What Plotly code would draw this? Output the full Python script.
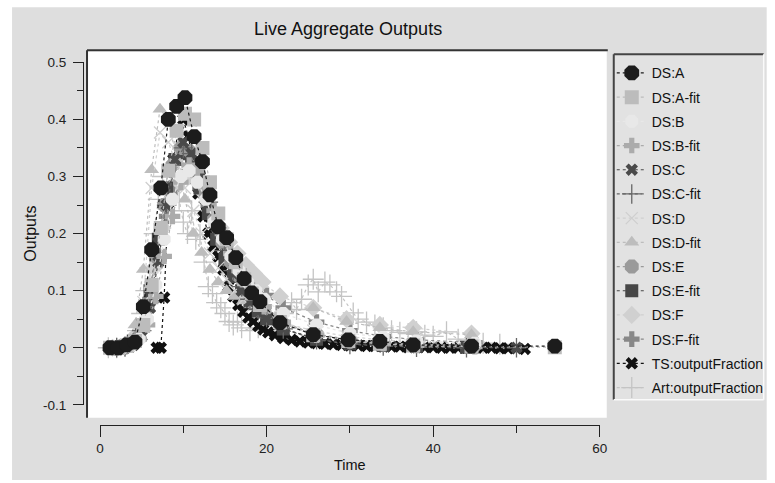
import plotly.graph_objects as go

# figure size and the placement of the page on screen (scale and offset of the view)
W, H = 775, 491
SX, SY, OX, OY = 0.985, 0.968, 4.0, 8.0


def fx(p):
    """screen x pixel -> paper fraction"""
    return (p / SX - OX) / W


def fy(p):
    """screen y pixel -> paper fraction"""
    return 1 - (p / SY - OY) / H


# ---------------- data ----------------
a_x = [1.2, 2.2, 3.2, 4.2, 5.2, 6.2, 7.3, 8.2, 9.2, 10.2, 11.3, 12.3, 13.2, 14.2, 15.2, 16.3, 17.3,
       18.2, 19.2, 21.6, 25.6, 29.8, 33.6, 37.6, 44.6, 54.6]
a_y = [0.0, 0.0, 0.005, 0.01, 0.072, 0.172, 0.28, 0.40, 0.423, 0.438, 0.37, 0.326, 0.268, 0.212,
       0.193, 0.158, 0.121, 0.096, 0.081, 0.044, 0.023, 0.014, 0.011, 0.005, 0.003, 0.003]
afit_y = [0.0, 0.001, 0.004, 0.012, 0.04, 0.11, 0.21, 0.31, 0.38, 0.41, 0.40, 0.35, 0.29, 0.235,
          0.19, 0.15, 0.12, 0.095, 0.075, 0.045, 0.022, 0.012, 0.007, 0.004, 0.002, 0.001]

b_x = [1.7, 2.7, 3.7, 4.7, 5.7, 6.7, 7.7, 8.7, 9.7, 10.7, 11.7, 12.7, 13.7, 14.7, 15.7, 16.7, 17.7,
       18.7, 19.7, 22.0, 26.0, 30.0, 34.0, 38.0, 45.0]
b_y = [0.0, 0.0, 0.003, 0.015, 0.05, 0.11, 0.19, 0.26, 0.30, 0.31, 0.29, 0.26, 0.22, 0.19, 0.16,
       0.135, 0.115, 0.10, 0.085, 0.06, 0.04, 0.025, 0.018, 0.012, 0.008]
bfit_y = [0.0, 0.001, 0.005, 0.015, 0.04, 0.09, 0.16, 0.23, 0.29, 0.32, 0.31, 0.28, 0.24, 0.20,
          0.165, 0.135, 0.11, 0.09, 0.072, 0.045, 0.022, 0.012, 0.007, 0.004, 0.002]

c_x = [2.0, 3.0, 4.0, 5.0, 6.0, 7.0, 8.0, 9.0, 10.0, 11.0, 12.0, 13.0, 14.0, 15.0, 16.0, 17.0, 18.0,
       19.0, 20.0, 22.0, 26.0, 30.0, 34.0, 38.0, 44.0, 50.0]
c_y = [0.0, 0.0, 0.005, 0.02, 0.07, 0.15, 0.25, 0.33, 0.36, 0.34, 0.30, 0.25, 0.20, 0.16, 0.13,
       0.10, 0.08, 0.063, 0.05, 0.033, 0.016, 0.008, 0.005, 0.003, 0.001, 0.0]
cfit_y = [0.0, 0.002, 0.008, 0.03, 0.08, 0.16, 0.25, 0.32, 0.35, 0.34, 0.30, 0.255, 0.21, 0.17,
          0.135, 0.107, 0.085, 0.067, 0.053, 0.033, 0.014, 0.006, 0.003, 0.001, 0.0, 0.0]

d_x = [1.2, 2.2, 3.2, 4.2, 5.2, 6.2, 7.2, 8.2, 9.2, 10.2, 11.2, 12.2, 13.2, 14.2, 15.2, 16.2, 17.2,
       18.2, 19.2, 21.6, 25.6, 29.6, 33.6, 37.6, 44.6]
d_y = [0.0, 0.0, 0.003, 0.015, 0.08, 0.28, 0.377, 0.36, 0.32, 0.28, 0.24, 0.20, 0.165, 0.14,
       0.12, 0.10, 0.085, 0.072, 0.062, 0.045, 0.03, 0.02, 0.014, 0.01, 0.006]
dfit_y = [0.0, 0.002, 0.01, 0.04, 0.137, 0.312, 0.418, 0.40, 0.33, 0.26, 0.20, 0.167, 0.137, 0.115,
          0.10, 0.09, 0.082, 0.076, 0.07, 0.06, 0.07, 0.046, 0.035, 0.028, 0.023]

e_x = [1.7, 2.7, 3.7, 4.7, 5.7, 6.7, 7.7, 8.7, 9.7, 10.7, 11.7, 12.7, 13.7, 14.7, 15.7, 16.7, 17.7,
       18.7, 19.7, 22.0, 26.0, 30.0, 34.0, 38.0, 45.0]
e_y = [0.0, 0.0, 0.004, 0.02, 0.07, 0.16, 0.25, 0.32, 0.35, 0.345, 0.31, 0.27, 0.225, 0.185, 0.15,
       0.125, 0.10, 0.082, 0.068, 0.042, 0.024, 0.014, 0.009, 0.006, 0.004]

efit_x = [2.0, 3.0, 4.0, 5.0, 6.0, 7.0, 8.0, 9.0, 10.0, 11.0, 12.0, 13.0, 14.0, 15.0, 16.0, 17.0,
          18.0, 19.0, 20.0, 22.0, 26.0, 30.0, 34.0, 38.0, 44.0]
efit_y = [0.0, 0.003, 0.012, 0.04, 0.10, 0.19, 0.28, 0.33, 0.34, 0.32, 0.28, 0.235, 0.19, 0.155,
          0.125, 0.10, 0.08, 0.064, 0.051, 0.033, 0.015, 0.007, 0.004, 0.002, 0.001]

f_x = [1.5, 2.5, 3.5, 4.5, 5.5, 6.5, 7.5, 8.5, 9.5, 10.5, 11.5, 12.5, 13.5, 14.5, 15.5, 16.5, 17.5,
       18.5, 19.5, 21.6, 25.6, 29.6, 33.6, 37.6, 44.6]
f_y = [0.0, 0.001, 0.006, 0.025, 0.07, 0.14, 0.21, 0.26, 0.29, 0.30, 0.295, 0.27, 0.24, 0.21,
       0.185, 0.165, 0.145, 0.13, 0.115, 0.09, 0.07, 0.05, 0.04, 0.035, 0.025]

ffit_x = [2.0, 3.0, 4.0, 5.0, 6.0, 7.0, 8.0, 9.0, 10.0, 11.0, 12.0, 13.0, 14.0, 15.0, 16.0, 17.0,
          18.0, 19.0, 20.0, 22.0, 26.0, 30.0, 34.0, 38.0, 45.0]
ffit_y = [0.0, 0.002, 0.01, 0.035, 0.085, 0.16, 0.23, 0.28, 0.30, 0.30, 0.28, 0.25, 0.215, 0.185,
          0.16, 0.14, 0.12, 0.105, 0.092, 0.07, 0.045, 0.03, 0.02, 0.014, 0.009]

ts_x = [6.8, 7.3, 7.7, 8.2, 8.8, 9.4, 10.0, 10.6, 11.2, 11.8, 12.4, 13.0, 13.6, 14.2, 14.8, 15.4,
        16.0, 16.6, 17.2, 17.8, 18.4, 19.0, 19.6, 20.2, 21.0, 22.0, 23.0, 24.0, 25.0, 26.0, 27.0,
        28.0, 29.0, 30.0, 31.0, 32.0, 33.0, 34.0, 35.0, 36.0, 37.0, 38.0, 39.0, 40.0, 41.0, 42.0,
        43.0, 44.0, 45.0, 46.0, 47.0, 48.0, 49.0, 50.0, 51.0]
ts_y = [0.0, 0.0, 0.088, 0.254, 0.33, 0.38, 0.40, 0.37, 0.32, 0.27, 0.23, 0.20, 0.178, 0.16,
        0.137, 0.107, 0.09, 0.075, 0.063, 0.053, 0.046, 0.038, 0.032, 0.027, 0.022, 0.017, 0.014,
        0.011, 0.009, 0.008, 0.007, 0.006, 0.005, 0.004, 0.004, 0.003, 0.003, 0.002, 0.002,
        0.002, 0.001, 0.001, 0.001, 0.001, 0.0, 0.0, 0.0, 0.0, 0.0, 0.0, 0.0, -0.001, -0.001,
        -0.001, -0.002]

art_x = [1.0, 2.0, 3.0, 4.0, 4.5, 5.0, 5.5, 6.0, 6.5, 7.0, 7.5, 8.0, 8.5, 9.0, 9.5, 10.0, 10.5,
         11.0, 11.5, 12.0, 12.5, 13.0, 13.5, 14.0, 14.5, 15.0, 15.5, 16.0, 16.5, 17.0, 18.0, 19.0,
         20.0, 21.0, 22.0, 23.0, 23.6, 24.2, 25.0, 25.6, 26.2, 27.0, 27.6, 28.4, 29.0, 30.4, 31.0,
         32.0, 33.0, 34.0, 35.0, 36.0, 37.0, 38.0, 39.0, 40.0, 41.6, 43.0, 44.0, 45.0, 46.0, 48.0]
art_y = [0.0, 0.0, 0.002, 0.01, 0.03, 0.06, 0.10, 0.14, 0.20, 0.26, 0.30, 0.28, 0.24, 0.28, 0.26,
         0.22, 0.20, 0.24, 0.19, 0.198, 0.15, 0.107, 0.095, 0.079, 0.07, 0.06, 0.046, 0.04, 0.045,
         0.035, 0.03, 0.035, 0.04, 0.045, 0.06, 0.079, 0.067, 0.085, 0.11, 0.12, 0.098, 0.115,
         0.11, 0.098, 0.09, 0.061, 0.05, 0.045, 0.04, 0.035, 0.03, 0.027, 0.025, 0.028, 0.022,
         0.02, 0.028, 0.015, 0.012, 0.01, 0.008, 0.006]

x_ticks = [0, 20, 40, 60]
y_ticks = [-0.1, 0.0, 0.1, 0.2, 0.3, 0.4, 0.5]

# name, x, y, symbol, size, colour  (legend order; first entry is painted on top)
series = [
    ("DS:A", a_x, a_y, "octagon", 16, "#1c1c1c"),
    ("DS:A-fit", a_x, afit_y, "square", 14, "#bcbcbc"),
    ("DS:B", b_x, b_y, "octagon", 14, "#e8e8e8"),
    ("DS:B-fit", b_x, bfit_y, "cross", 13, "#ababab"),
    ("DS:C", c_x, c_y, "x", 11, "#4a4a4a"),
    ("DS:C-fit", c_x, cfit_y, "cross-thin", 14, "#666666"),
    ("DS:D", d_x, d_y, "x-thin", 12, "#cfcfcf"),
    ("DS:D-fit", d_x, dfit_y, "triangle-up", 13, "#bdbdbd"),
    ("DS:E", e_x, e_y, "octagon", 15, "#9a9a9a"),
    ("DS:E-fit", efit_x, efit_y, "square", 13, "#474747"),
    ("DS:F", f_x, f_y, "diamond", 14, "#d0d0d0"),
    ("DS:F-fit", ffit_x, ffit_y, "cross", 13, "#888888"),
    ("TS:outputFraction", ts_x, ts_y, "x", 11, "#111111"),
    ("Art:outputFraction", art_x, art_y, "cross-thin", 15, "#c4c4c4"),
]

FONT = "Liberation Sans, Arial, sans-serif"

fig = go.Figure()
for rank, (name, xs, ys, sym, size, col) in reversed(list(enumerate(series))):
    marker = dict(symbol=sym, size=size, color=col)
    if sym.endswith("-thin"):
        marker["line"] = dict(color=col, width=1.3)
    else:
        marker["line"] = dict(width=0)
    fig.add_trace(go.Scatter(
        x=xs, y=ys, name=name, mode="lines+markers", legendgroup=name,
        legendrank=rank + 1,
        line=dict(color=col, width=1.2, dash="dot"), marker=marker,
    ))

# helper traces so the detached axes are drawn
fig.add_trace(go.Scatter(x=[], y=[], xaxis="x2", yaxis="y", showlegend=False))
fig.add_trace(go.Scatter(x=[], y=[], xaxis="x", yaxis="y2", showlegend=False))

# plot area, in screen pixels
PL, PR, PT, PB = 88, 607, 52, 418
X0PX, X60PX = 100, 600
Y05PX, YM01PX = 63, 405
xs_per_px = 60 / (X60PX - X0PX)
ys_per_px = 0.6 / (YM01PX - Y05PX)
xr = [(PL - X0PX) * xs_per_px, (PR - X0PX) * xs_per_px]
yr = [-0.1 - (PB - YM01PX) * ys_per_px, 0.5 + (Y05PX - PT) * ys_per_px]

tickfont = dict(family=FONT, size=13.5, color="#222222")


def hline(x0, x1, y, col, w):
    return dict(type="line", xref="paper", yref="paper", x0=fx(x0), x1=fx(x1), y0=fy(y), y1=fy(y),
                line=dict(color=col, width=w), layer="below")


def vline(x, y0, y1, col, w):
    return dict(type="line", xref="paper", yref="paper", x0=fx(x), x1=fx(x), y0=fy(y0), y1=fy(y1),
                line=dict(color=col, width=w), layer="below")


shapes = [
    # grey panel
    dict(type="rect", xref="paper", yref="paper", x0=fx(12), x1=fx(767), y0=fy(480), y1=fy(8),
         fillcolor="#dedede", line=dict(width=0), layer="below"),
    # white plotting area
    dict(type="rect", xref="paper", yref="paper", x0=fx(PL), x1=fx(PR), y0=fy(PB), y1=fy(PT),
         fillcolor="#ffffff", line=dict(width=0), layer="below"),
    # sunken frame: dark top and left edges
    hline(PL - 1, PR + 1, PT - 1, "#333333", 2),
    vline(PL - 1, PB, PT - 1, "#333333", 2),
    # legend box
    dict(type="rect", xref="paper", yref="paper", x0=fx(614), x1=fx(764), y0=fy(400), y1=fy(55),
         fillcolor="#e2e2e2", line=dict(width=0), layer="below"),
    hline(614, 764, 55, "#444444", 2),
    vline(614, 400, 55, "#444444", 2),
    hline(614, 764, 400, "#fafafa", 1.5),
    vline(764, 400, 55, "#fafafa", 1.5),
]

fig.update_layout(
    width=W, height=H,
    margin=dict(l=0, r=0, t=0, b=0, pad=0),
    paper_bgcolor="#ffffff",
    plot_bgcolor="rgba(0,0,0,0)",
    font=dict(family=FONT, size=13, color="#222222"),
    showlegend=True,
    xaxis=dict(domain=[fx(PL), fx(PR)], range=xr, visible=False, fixedrange=True),
    yaxis=dict(domain=[fy(PB), fy(PT)], range=yr, visible=False, fixedrange=True),
    xaxis2=dict(
        domain=[fx(X0PX), fx(X60PX)], range=[0, 60], anchor="free", position=fy(425),
        showline=True, linecolor="#222222", linewidth=1.2, showgrid=False, zeroline=False,
        tickmode="array", tickvals=x_ticks, ticktext=[str(v) for v in x_ticks],
        ticks="outside", ticklen=11, tickwidth=1.2, tickcolor="#222222", tickfont=tickfont,
        minor=dict(tickmode="linear", tick0=0, dtick=10, ticks="outside", ticklen=7,
                   tickwidth=1.2, tickcolor="#222222"),
    ),
    yaxis2=dict(
        domain=[fy(YM01PX), fy(Y05PX)], range=[-0.1, 0.5], anchor="free", position=fx(83),
        showline=True, linecolor="#222222", linewidth=1.2, showgrid=False, zeroline=False,
        tickmode="array", tickvals=y_ticks,
        ticktext=["-0.1", "0", "0.1", "0.2", "0.3", "0.4", "0.5"],
        ticks="outside", ticklen=10, tickwidth=1.2, tickcolor="#222222", tickfont=tickfont,
        ticklabelstandoff=4,
        minor=dict(tickmode="linear", tick0=0, dtick=0.05, ticks="outside", ticklen=6,
                   tickwidth=1.2, tickcolor="#222222"),
    ),
    legend=dict(
        x=fx(612), y=fy(58), xanchor="left", yanchor="top",
        bgcolor="rgba(0,0,0,0)", borderwidth=0,
        font=dict(family=FONT, size=14, color="#111111"),
        tracegroupgap=3, itemwidth=30,
    ),
    shapes=shapes,
    annotations=[
        dict(text="Live Aggregate Outputs", xref="paper", yref="paper", x=fx(348), y=fy(30),
             showarrow=False, xanchor="center", yanchor="middle",
             font=dict(family=FONT, size=18, color="#111111")),
        dict(text="Time", xref="paper", yref="paper", x=fx(350), y=fy(465),
             showarrow=False, xanchor="center", yanchor="middle",
             font=dict(family=FONT, size=14.5, color="#111111")),
        dict(text="Outputs", xref="paper", yref="paper", x=fx(31), y=fy(234), textangle=-90,
             showarrow=False, xanchor="center", yanchor="middle",
             font=dict(family=FONT, size=16, color="#111111")),
    ],
)

fig.write_html("out.html")
